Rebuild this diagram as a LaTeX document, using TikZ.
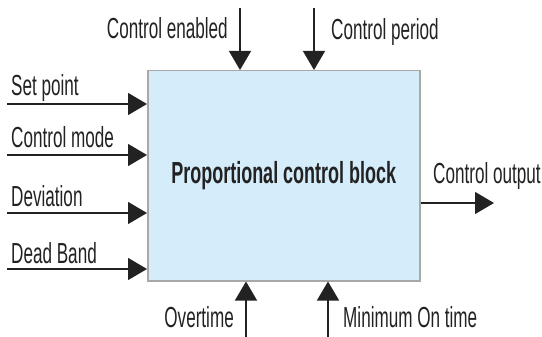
\documentclass[tikz,border=0pt]{standalone}
\usepackage{fontspec}
\setmainfont{Liberation Sans}[FakeStretch=0.59]
\usetikzlibrary{arrows.meta, positioning}

\definecolor{blkfill}{HTML}{D5ECFA}
\definecolor{blkline}{HTML}{A8A8A8}
\definecolor{inkgray}{HTML}{222222}

\tikzset{
  sig/.style={draw=inkgray, line width=1.3pt, -{Triangle[length=19pt,width=22pt]}},
  lbl/.style={font=\fontsize{29}{31}\selectfont, text=inkgray, inner sep=0pt},
}

\begin{document}
\begin{tikzpicture}[x=1pt, y=-1pt]
  \useasboundingbox (0,0) rectangle (542,337);

  % the block
  \node[draw=blkline, line width=1.5pt, fill=blkfill, anchor=north west,
        minimum width=272pt, minimum height=210pt, inner sep=0pt,
        font=\bfseries\fontsize{30.5}{32}\selectfont, text=inkgray] (blk) at (147,70)
        {Proportional control block};

  % inputs on the left
  \coordinate (sp) at (7,104);
  \coordinate (cm) at (7,155);
  \coordinate (dv) at (7,213);
  \coordinate (db) at (7,269);
  \draw[sig] (sp) -- (sp -| blk.west);
  \draw[sig] (cm) -- (cm -| blk.west);
  \draw[sig] (dv) -- (dv -| blk.west);
  \draw[sig] (db) -- (db -| blk.west);
  \node[lbl, anchor=base west] (splbl) at (11,96) {Set point};
  \node[lbl, anchor=base west] (cmlbl) at (11,148) {Control mode};
  \node[lbl, anchor=base west] (dvlbl) at (11,207) {Deviation};
  \node[lbl, anchor=base west] (dblbl) at (11,263) {Dead Band};

  % inputs from the top
  \coordinate (ce) at (240,8);
  \coordinate (cp) at (314,8);
  \draw[sig] (ce) -- (ce |- blk.north);
  \draw[sig] (cp) -- (cp |- blk.north);
  \node[lbl, anchor=base east] (celbl) at (228,39) {Control enabled};
  \node[lbl, anchor=base west] (cplbl) at (331,40) {Control period};

  % inputs from the bottom
  \coordinate (ot) at (246,337);
  \coordinate (mt) at (328,337);
  \draw[sig] (ot) -- (ot |- blk.south);
  \draw[sig] (mt) -- (mt |- blk.south);
  \node[lbl, anchor=base east] (otlbl) at (234,327) {Overtime};
  \node[lbl, anchor=base west] (mtlbl) at (343,327) {Minimum On time};

  % output
  \coordinate (co) at (494,203);
  \draw[sig] (co -| blk.east) -- (co);
  \node[lbl, anchor=base west] (colbl) at (433,183) {Control output};
\end{tikzpicture}
\end{document}
